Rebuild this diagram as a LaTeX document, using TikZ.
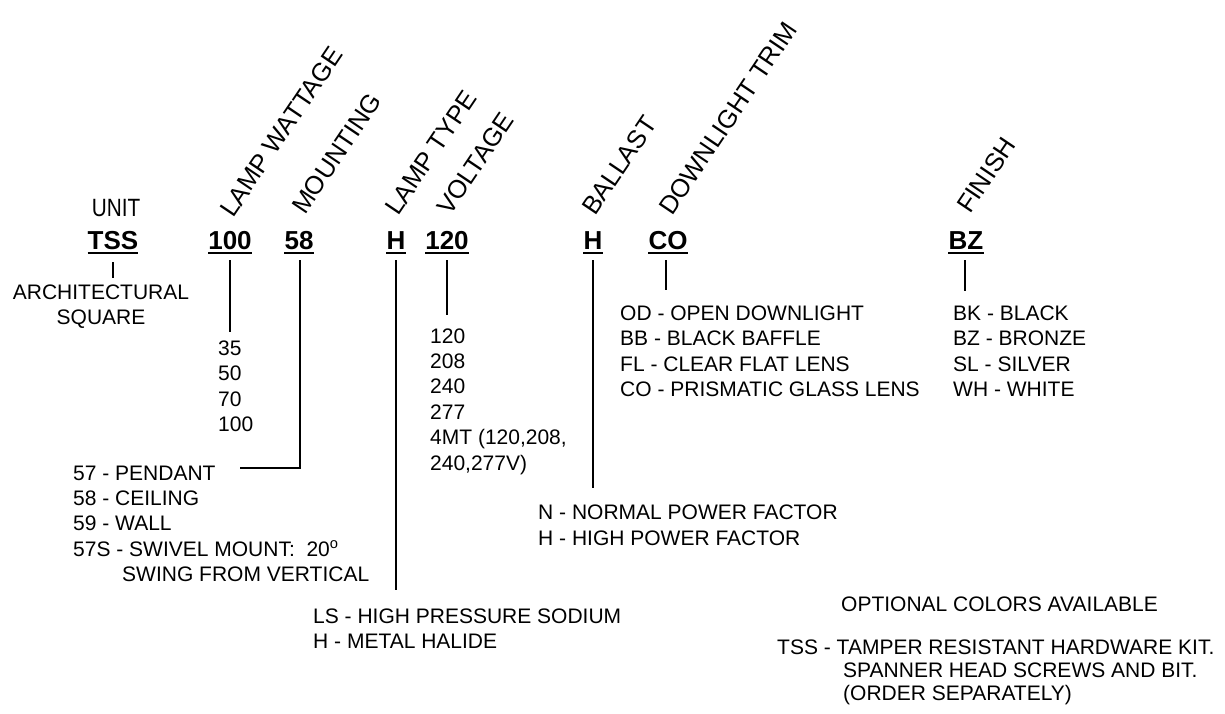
\documentclass[tikz,border=0pt]{standalone}
\usepackage{fontspec}
\setmainfont{Liberation Sans}
\begin{document}
\begin{tikzpicture}[x=1pt,y=-1pt,
  txt/.style={anchor=base west, inner sep=0pt, font=\fontsize{21}{25}\selectfont},
  ctxt/.style={anchor=base, inner sep=0pt, font=\fontsize{21}{25}\selectfont},
  code/.style={anchor=base, inner sep=0pt, font=\fontsize{26}{30}\selectfont\bfseries},
  cat/.style={anchor=base west, inner sep=0pt, rotate=56, font=\fontsize{25.5}{30}\selectfont},
  conn/.style={line width=2pt},
  ul/.style={line width=1.5pt}]
\useasboundingbox (0,0) rectangle (1225,713);

% category labels
\node[anchor=base, inner sep=0pt, font=\fontsize{25}{30}\selectfont] (unit) at (116,216) {\scalebox{0.83}[1]{UNIT}};
\node[cat] (lw) at (233,219) {LAMP WATTAGE};
\node[cat] (mt) at (305,216) {MOUNTING};
\node[cat] (lt) at (398,217) {LAMP TYPE};
\node[cat] (vt) at (450,217) {VOLTAGE};
\node[cat] (bl) at (595,217) {BALLAST};
\node[cat] (dt) at (672,217) {DOWNLIGHT TRIM};
\node[cat] (fn) at (970,215) {FINISH};

% codes
\node[code] (cTSS) at (113,249) {TSS};
\node[code] (c100) at (230,249) {100};
\node[code] (c58) at (299,249) {58};
\node[code] (cH) at (396,249) {H};
\node[code] (c120) at (447,249) {120};
\node[code] (cHb) at (593,249) {H};
\node[code] (cCO) at (668,249) {CO};
\node[code] (cBZ) at (966,249) {BZ};
\foreach \c in {cTSS,c100,c58,cH,c120,cHb,cCO,cBZ}
  \draw[ul] ([yshift=-4pt]\c.base west) -- ([yshift=-4pt]\c.base east);

% unit
\node[ctxt] (arch) at (101,299) {ARCHITECTURAL};
\node[ctxt] (sq) at (101,324) {SQUARE};

% wattage
\node[txt] (w35) at (218,355) {35};
\node[txt] (w50) at (218,380) {50};
\node[txt] (w70) at (218,406) {70};
\node[txt] (w100) at (218,431) {100};

% mounting
\node[txt] (m57) at (73,480) {57 - PENDANT};
\node[txt] (m58) at (73,505) {58 - CEILING};
\node[txt] (m59) at (73,530) {59 - WALL};
\node[txt] (m57s) at (73,556) {57S - SWIVEL MOUNT:\ \ 20\textsuperscript{o}};
\node[txt] (msw) at (122,581) {SWING FROM VERTICAL};

% lamp type
\node[txt] (ls) at (313,623) {LS - HIGH PRESSURE SODIUM};
\node[txt] (lh) at (313,648) {H - METAL HALIDE};

% voltage
\node[txt] (v120) at (430,343) {120};
\node[txt] (v208) at (430,368) {208};
\node[txt] (v240) at (430,393) {240};
\node[txt] (v277) at (430,419) {277};
\node[txt] (v4mt) at (430,444) {4MT (120,208,};
\node[txt] (v4b) at (430,470) {240,277V)};

% ballast
\node[txt] (bn) at (538,519) {N - NORMAL POWER FACTOR};
\node[txt] (bh) at (538,545) {H - HIGH POWER FACTOR};

% downlight trim
\node[txt] (od) at (620,320) {OD - OPEN DOWNLIGHT};
\node[txt] (bb) at (620,345) {BB - BLACK BAFFLE};
\node[txt] (fl) at (620,371) {FL - CLEAR FLAT LENS};
\node[txt] (co) at (620,396) {CO - PRISMATIC GLASS LENS};

% finish
\node[txt] (bk) at (953,320) {BK - BLACK};
\node[txt] (bz) at (953,345) {BZ - BRONZE};
\node[txt] (sl) at (953,371) {SL - SILVER};
\node[txt] (wh) at (953,396) {WH - WHITE};

% notes
\node[txt] (opt) at (841,611) {OPTIONAL COLORS AVAILABLE};
\node[txt] (tss1) at (777,654) {TSS - TAMPER RESISTANT HARDWARE KIT.};
\node[txt] (tss2) at (843,677) {SPANNER HEAD SCREWS AND BIT.};
\node[txt] (tss3) at (843,700) {(ORDER SEPARATELY)};

% connector ends
\coordinate (eTSS) at (113,278);
\coordinate (e100) at (230,332);
\coordinate (e58c) at (300,468);
\coordinate (e58) at (240,468);
\coordinate (eH) at (396,590);
\coordinate (e120) at (447,315);
\coordinate (eHb) at (593,488);
\coordinate (eCO) at (666,290);
\coordinate (eBZ) at (965,291);

\draw[conn] ([yshift=-13pt]cTSS.base) -- (eTSS);
\draw[conn] ([yshift=-11pt]c100.base) -- (e100);
\draw[conn] ([yshift=-11pt,xshift=1pt]c58.base) -- (e58c) -- (e58);
\draw[conn] ([yshift=-11pt]cH.base) -- (eH);
\draw[conn] ([yshift=-11pt]c120.base) -- (e120);
\draw[conn] ([yshift=-11pt]cHb.base) -- (eHb);
\draw[conn] ([yshift=-11pt,xshift=-2pt]cCO.base) -- (eCO);
\draw[conn] ([yshift=-11pt,xshift=-1pt]cBZ.base) -- (eBZ);
\end{tikzpicture}
\end{document}
